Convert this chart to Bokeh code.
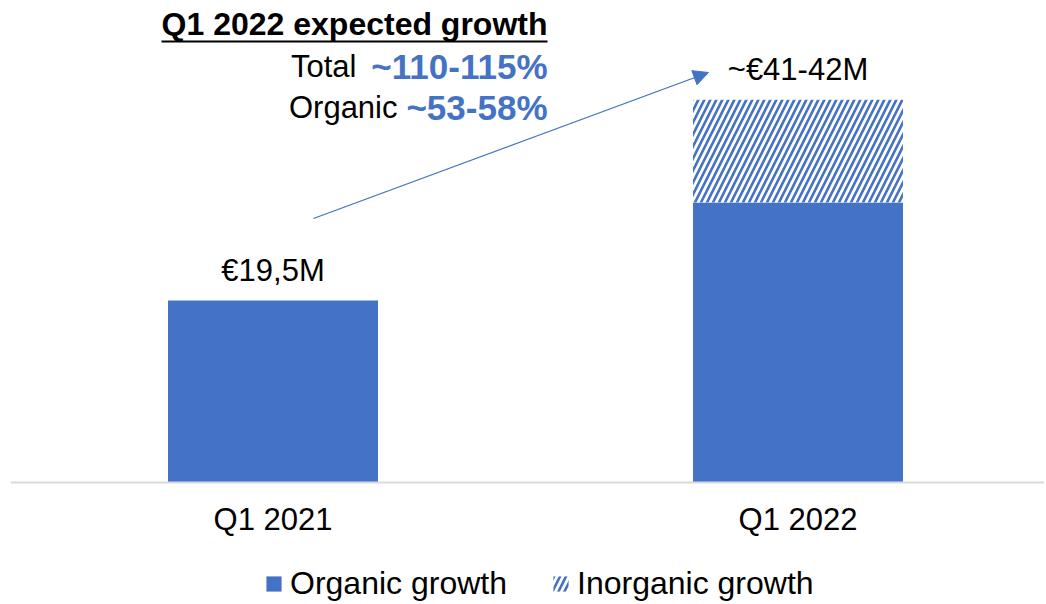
from bokeh.plotting import figure
from bokeh.models import (Range1d, Legend, LegendItem, Arrow, NormalHead,
                          ColumnDataSource, Label, Span)
from bokeh.core.properties import value
from bokeh.embed import file_html
from bokeh.resources import INLINE

# ---- data ----
categories = ["Q1 2021", "Q1 2022"]
organic = [19.5, 30.0]
inorganic = [0.0, 11.0]
bar_labels = ["€19,5M", "~€41-42M"]
title_text = "Q1 2022 expected growth"
growth_names = ["Total", "Organic"]
growth_values = ["~110-115%", "~53-58%"]
series_names = ["Organic growth", "Inorganic growth"]

BLUE = "#4472C4"
FONT = "Liberation Sans"

W, H = 1044, 602
FRAME_LEFT, FRAME_TOP = 10, 0          # page px
BASE = 482                             # page px of the value-axis zero line
FRAME_BOTTOM = FRAME_TOP + H
X0, PX_PER_X = 0.5, 525.0
PX_PER_Y = 182.0 / 19.5
Y_END = (BASE - FRAME_TOP) / PX_PER_Y
Y_START = -(FRAME_BOTTOM - BASE) / PX_PER_Y
BFIX = 11                              # alphabetic baseline correction (px)


def xd(px):
    return X0 + (px - FRAME_LEFT) / PX_PER_X


def yd(py):
    return (BASE - py) / PX_PER_Y


x_pos = list(range(1, len(categories) + 1))
totals = [o + i for o, i in zip(organic, inorganic)]

p = figure(width=W, height=H, output_backend="svg", toolbar_location=None,
           x_range=Range1d(X0, X0 + (W - FRAME_LEFT) / PX_PER_X),
           y_range=Range1d(Y_START, Y_END),
           x_axis_location=None, y_axis_location=None,
           min_border_left=FRAME_LEFT, min_border_right=0, min_border_top=0,
           min_border_bottom=0)
p.outline_line_color = None
p.grid.visible = False
p.background_fill_color = "white"

src = ColumnDataSource(dict(x=x_pos, organic=organic, total=totals,
                            labels=bar_labels, cats=categories,
                            zero=[0] * len(x_pos)))

r1 = p.vbar(x="x", bottom="zero", top="organic", width=0.4, source=src,
            fill_color=BLUE, line_color=None)
r2 = p.vbar(x="x", bottom="organic", top="total", width=0.4, source=src,
            fill_color="white", line_color=None, hatch_pattern="/",
            hatch_color=BLUE, hatch_scale=12, hatch_weight=2.6)

# value labels above bars
p.text(x="x", y="total", text="labels", source=src, text_align="center",
       text_baseline="alphabetic", y_offset=-19 - BFIX,
       text_font=value(FONT), text_font_size="31px", text_color="black")

# category axis: line + labels
p.add_layout(Span(location=0, dimension="width", line_color="#D9D9D9",
                  line_width=2))
p.text(x="x", y="zero", text="cats", source=src, text_align="center",
       text_baseline="alphabetic", y_offset=48 - BFIX,
       text_font=value(FONT), text_font_size="31px", text_color="black")

# title block
p.add_layout(Label(x=xd(547), y=yd(34 - BFIX), text=title_text,
                   text_align="right", text_baseline="alphabetic",
                   text_font=FONT, text_font_size="32px",
                   text_font_style="bold", text_color="black"))
p.segment(x0=[xd(161)], y0=[yd(41)], x1=[xd(547)], y1=[yd(41)],
          line_color="black", line_width=2)
for name, val, base, end in zip(growth_names, growth_values, [77, 118], [356, 397]):
    p.add_layout(Label(x=xd(547), y=yd(base - BFIX), text=val,
                       text_align="right", text_baseline="alphabetic",
                       text_font=FONT, text_font_size="35px",
                       text_font_style="bold", text_color=BLUE))
    p.add_layout(Label(x=xd(end), y=yd(base - BFIX), text=name,
                       text_align="right", text_baseline="alphabetic",
                       text_font=FONT, text_font_size="31px",
                       text_color="black"))

# arrow
p.add_layout(Arrow(end=NormalHead(size=15, fill_color=BLUE, line_color=BLUE),
                   x_start=xd(313), y_start=yd(218), x_end=xd(708), y_end=yd(72),
                   line_color=BLUE, line_width=1.3))

legend = Legend(items=[LegendItem(label=series_names[0], renderers=[r1]),
                       LegendItem(label=series_names[1], renderers=[r2])],
                orientation="horizontal", location=(254, 0),
                label_text_font=FONT, label_text_font_size="32px",
                label_text_color="black",
                glyph_width=19, glyph_height=19, label_standoff=7, spacing=44,
                padding=0, margin=0, border_line_color=None,
                background_fill_alpha=0)
p.add_layout(legend, "center")

open("out.html", "w").write(file_html(p, INLINE))
